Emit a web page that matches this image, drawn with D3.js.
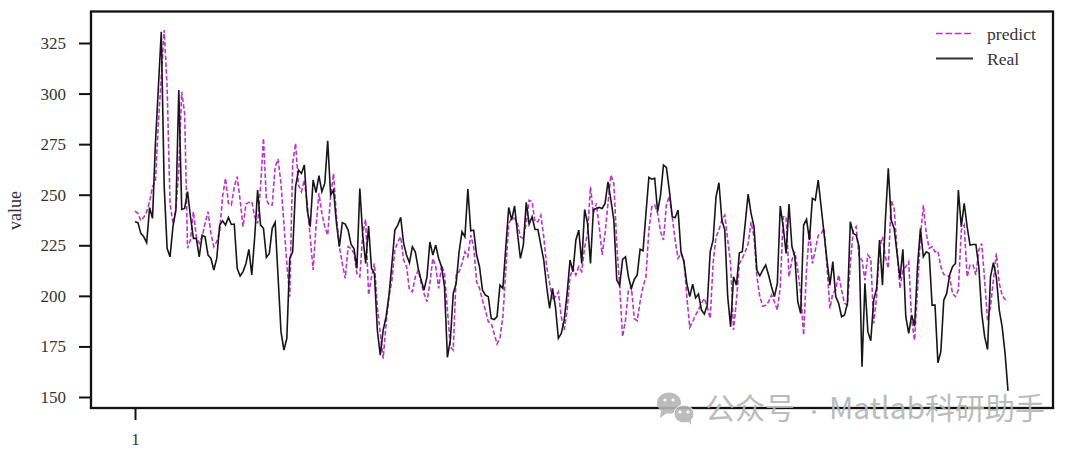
<!DOCTYPE html>
<html><head><meta charset="utf-8">
<script src="https://cdn.jsdelivr.net/npm/d3@7"></script>
<style>html,body{margin:0;padding:0;background:#fff}svg{display:block}</style>
</head><body><div id="chart"></div>
<script>
const yTickValues = [150,175,200,225,250,275,300,325];
const xTickValues = [0];
const xTickLabels = ["1"];
const legendLabels = ["predict","Real"];
const yAxisTitle = "value";
const watermarkParts = ["公众号","·","Matlab科研助手"];
const real = [
236.6,236.2,230.9,229.2,226.3,243.7,238.3,275.4,303,330.6,254,223.5,219.3,234.2,242.4,301.7,242.7,243.2,251.5,239.1,
228.4,228.4,219.3,230,229.2,220.2,218.5,212.8,218.5,235,237.1,235,238.8,235.3,235.5,213.6,209.8,212,216,223,
210.3,229.2,252.3,235,233.4,219,221,233.4,236.3,209.5,182.3,173.2,179,218.5,221.8,254,262.2,260.5,264.7,242.4,
234.2,257.3,251,259.4,251.5,255.6,276.7,249.8,252.3,235.8,224.3,236.2,235.5,232.5,225.4,223.4,213.6,253.1,230,216,
234.5,213.6,211,183,170.7,183,189.7,200.4,216,232.5,235,238.8,226,220.2,216.4,224.3,221.8,213.6,207.8,202.9,
209.4,226.7,220.2,225.1,218.5,214.4,204.5,169.6,178.1,201.2,206.2,221.8,231.7,229.2,252.8,232.2,232.5,220.2,214.4,202.9,
200.4,199.6,188.8,188.3,189.7,205.3,203.7,224.3,243.7,237.5,244.5,230.9,218.5,225.1,246.2,235.5,239.1,232.8,232.8,225.1,
217.7,204.5,193.8,203.7,194.6,179,181.4,188,201.2,217.7,211.9,227.6,232.5,216,242.7,235.8,216,242.7,243.2,243.7,
243.2,245.7,256.4,247.3,237.5,207.8,205.3,218,219.3,209.4,203.7,208.1,210.3,223,222.3,240.8,258.6,257.7,258.1,241.6,
249.8,264.7,263.5,252.3,239.1,238.6,242.4,221.8,216.9,206.2,199.6,205.8,199,200.9,193,191,195.4,221.8,227.6,249,
255.9,237.5,232.5,199.6,184.7,209.4,205.3,221.3,221.8,235.8,250.3,240.8,234.2,212.7,209.9,212.7,215.2,210.3,204.5,199.6,
206.2,244.4,234.2,221,245.4,224.3,219.3,197.1,191.3,235,237.8,227.6,248.2,247.3,257.2,244,230.9,217.7,205.3,216.9,
199.6,196.3,189.7,190.5,196.3,236.6,230.9,230,224.3,165,206.2,182.3,177.8,197.9,203.7,227.6,205.3,237.5,263,237.5,
233.3,221,208.6,223,189.7,181.4,190.5,185,214.4,233.3,219.3,221.8,221,195.4,195.4,166.9,172.4,197.9,201.2,210.3,
214.4,216,252.3,234.2,245.7,234.2,225.1,225.4,225.4,214.4,191.3,179.8,173.5,209.4,216.4,209.4,193,184.7,171.5,153];
const predict = [
241.9,240.8,237.2,238.8,241.6,246.5,254,256.4,285.3,308.3,331.4,303.4,245.7,235.8,242.4,262.2,300.9,290.2,223.5,227.6,
241.6,229.2,226,229.2,235.8,241.6,230.9,224.3,226.8,231.7,249,258.1,245.7,244.9,254,258.9,247.4,234.2,245.4,246.2,
246.5,239.1,235.8,254,277.9,247.4,244.9,244.9,263.8,267.6,255.6,235.8,216,199.6,265.5,275.4,254.8,251.5,257.3,245.7,
229.2,212.8,234.2,250.7,240.8,234.2,230,249,260.5,239.1,224.3,216,208.6,224.3,223.4,221,211,209.4,230.9,237.8,
200.4,209.4,216,194.6,181.4,169,186.4,199.6,207.8,222.6,226.7,229.2,217.7,214.4,202.9,202,209.4,212.7,206.2,201.2,
197.1,206.2,218.5,214.4,203.7,215.2,211.1,193,174.8,173.2,210.3,211.9,216,221.8,219.3,230,224.3,207,203.7,197.9,
193,187.2,186.4,181.4,176.2,179,189.7,212.7,235.8,238.3,238.3,235.8,229.2,228.4,235.8,247.3,246.5,236.6,236.6,239.9,
229.2,214.4,206.2,197.9,199.6,202,189.7,183.1,193,209.4,213.6,210.3,214.4,212,224,230.9,253.9,240.8,245.7,234.2,
220.2,230.9,245.7,259.7,255.6,225.9,204.5,179.8,188,202.9,204.5,188.8,187.7,197.1,204.5,209.4,232.5,244,244.9,240.8,
231.7,227.6,244.9,249.3,239.1,227.6,218.5,221,217.7,199.6,184.4,187.2,190.5,193,196.3,198.7,194.6,188.8,216,229.2,
232.5,237.5,239.9,227.6,216,183.1,197.9,216,218.5,221.8,225.9,236.6,229.2,209.4,199.6,194.9,195.3,197.1,200.4,197.1,
193,204.5,239.1,239.1,209.4,217.7,221.8,212.7,201.2,180.6,212.7,232.5,216,222.6,230,230.9,233.3,214.4,193.8,201.2,
202.9,210.3,202.9,196.3,195.4,216,232.5,234.2,219.3,217.7,207.8,220.2,218.5,186.4,199.6,223.5,229.2,219.3,213.6,247.3,
243.2,222.6,203.7,212.7,214.4,216.9,188,178.1,202.9,229.2,244.9,230.9,223.5,224.3,221.8,222.1,214.4,210.6,210.3,209.4,
201.2,199.6,202.9,232.5,235,209.4,215.2,215.2,210.3,222.6,225.9,207.8,188,194.6,207.8,221,206.2,200.4,198.2,197.4];

const W = 1080, H = 452;
const serif = "'Liberation Serif','Times New Roman',serif";
const magenta = "#bb33cc";
const svg = d3.select("#chart").append("svg").attr("width",W).attr("height",H);
const x = d3.scaleLinear().domain([0,real.length-1]).range([135,1008]);
const y = d3.scaleLinear().domain([150,325]).range([397,43]);
const line = d3.line().x((d,i)=>x(i)).y(d=>y(d));

svg.append("path").datum(predict).attr("d",line).attr("fill","none")
  .attr("stroke",magenta).attr("stroke-width",1.6).attr("stroke-dasharray","4.6,2.2");
svg.append("path").datum(real).attr("d",line).attr("fill","none")
  .attr("stroke","#161616").attr("stroke-width",1.6);

// frame
svg.append("rect").attr("x",91).attr("y",11.5).attr("width",962).attr("height",396.5)
  .attr("fill","none").attr("stroke","#111").attr("stroke-width",2.3);

const yAxis = d3.axisLeft(y).tickValues(yTickValues).tickSize(12).tickPadding(13);
const gy = svg.append("g").attr("transform","translate(91,0)").call(yAxis);
gy.select(".domain").remove();
gy.selectAll("line").attr("stroke","#111").attr("stroke-width",2);
gy.selectAll("text").attr("font-family",serif).attr("font-size",17).attr("fill","#333");

const xAxis = d3.axisBottom(x).tickValues(xTickValues).tickFormat((d,i)=>xTickLabels[i]).tickSize(12).tickPadding(13);
const gx = svg.append("g").attr("transform","translate(0,408)").call(xAxis);
gx.select(".domain").remove();
gx.selectAll("line").attr("stroke","#111").attr("stroke-width",2);
gx.selectAll("text").attr("font-family",serif).attr("font-size",17).attr("fill","#333");

svg.append("text").attr("transform","translate(21,210.5) rotate(-90)").attr("text-anchor","middle")
  .attr("font-family",serif).attr("font-size",18).attr("fill","#333").text(yAxisTitle);

// legend
const legendStyles = [{c:magenta,d:"6.7,2.7",w:1.6},{c:"#333",d:null,w:1.9}];
legendLabels.forEach((t,i)=>{
  const ly = 33.5 + i*25;
  svg.append("line").attr("x1",936).attr("x2",973).attr("y1",ly).attr("y2",ly)
    .attr("stroke",legendStyles[i].c).attr("stroke-width",legendStyles[i].w).attr("stroke-dasharray",legendStyles[i].d);
  svg.append("text").attr("x",987).attr("y",ly+6.2).attr("font-family",serif).attr("font-size",17.6)
    .attr("fill","#333").text(t);
});

// watermark
const wm = svg.append("g").attr("opacity",0.9);
const g = "#b5b5b5";
wm.append("ellipse").attr("cx",669).attr("cy",403).attr("rx",12).attr("ry",10.5).attr("fill",g);
wm.append("path").attr("d","M661 411 L660 418 L667 413 Z").attr("fill",g);
wm.append("ellipse").attr("cx",684).attr("cy",414).attr("rx",10).attr("ry",9).attr("fill",g).attr("stroke","#fff").attr("stroke-width",1);
wm.append("path").attr("d","M688 421 L691 425 L691 419 Z").attr("fill",g);
[[665,400],[673,400],[680,412],[688,412]].forEach(p=>wm.append("circle").attr("cx",p[0]).attr("cy",p[1]).attr("r",1.6).attr("fill","#fff"));
const wmFont = "'Noto Sans CJK SC','Noto Sans',sans-serif";
[705,805,829].forEach((px,i)=>wm.append("text").attr("x",px).attr("y",419).attr("font-family",wmFont)
  .attr("font-size",i===1?18:30).attr("fill",g).text(watermarkParts[i]));
</script></body></html>
